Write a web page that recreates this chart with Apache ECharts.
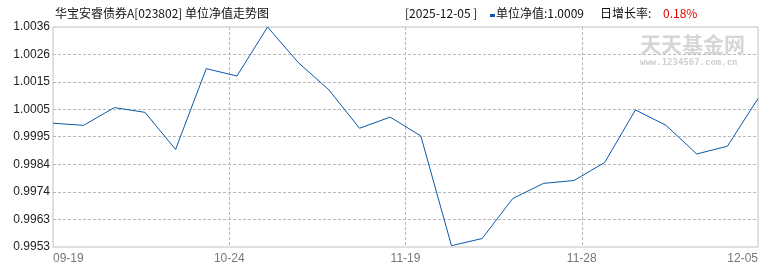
<!DOCTYPE html>
<html>
<head>
<meta charset="utf-8">
<script src="https://cdn.jsdelivr.net/npm/echarts@6/dist/echarts.min.js"></script>
<style>
html,body{margin:0;padding:0;background:#fff;}
#c{width:770px;height:270px;}
</style>
</head>
<body>
<div id="c"></div>
<script>
// ---- data ----
var fundTitle = '华宝安睿债券A[023802] 单位净值走势图';
var categories = ['2025-09-19','2025-09-26','2025-09-30','2025-10-10','2025-10-17','2025-10-21',
  '2025-10-24','2025-10-31','2025-11-07','2025-11-12','2025-11-14','2025-11-17',
  '2025-11-19','2025-11-20','2025-11-21','2025-11-24','2025-11-25','2025-11-26',
  '2025-11-28','2025-12-01','2025-12-02','2025-12-03','2025-12-04','2025-12-05'];
var navValues = [0.99997, 0.99989, 1.00056, 1.00038, 0.99898, 1.00203,
  1.00175, 1.00360, 1.00226, 1.00123, 0.99978, 1.00020,
  0.99949, 0.99535, 0.99562, 0.99713, 0.99770, 0.99781,
  0.99849, 1.00047, 0.99989, 0.99881, 0.99910, 1.00090];
var xTickLabels = ['09-19', '10-24', '11-19', '11-28', '12-05'];
var yTickValues = [0.9953, 0.99634, 0.99738, 0.99841, 0.99946, 1.00049, 1.00153, 1.00256, 1.0036];

var lastDate = categories[categories.length - 1];
var lastVal = navValues[navValues.length - 1];
var prevVal = navValues[navValues.length - 2];
var growth = ((lastVal / prevVal - 1) * 100).toFixed(2) + '%';

var chart = echarts.init(document.getElementById('c'), null, {renderer: 'canvas'});
var font = '"Noto Sans CJK SC", "Liberation Sans", sans-serif';
var option = {
  animation: false,
  backgroundColor: '#fff',
  grid: {left: 53, right: 12, top: 27, bottom: 23, show: true, borderColor: '#c0c0c0', borderWidth: 1, backgroundColor: 'transparent'},
  xAxis: [{
    type: 'category',
    data: categories,
    boundaryGap: false,
    axisLine: {show: false}, axisTick: {show: false}, axisLabel: {show: false}, splitLine: {show: false}
  }, {
    type: 'value',
    position: 'bottom',
    min: 0, max: xTickLabels.length - 1, interval: 1,
    axisLine: {show: false}, axisTick: {show: false},
    axisLabel: {
      show: true, color: '#777', fontSize: 12, fontFamily: '"Liberation Sans", sans-serif', margin: 6,
      alignMinLabel: 'left', alignMaxLabel: 'right',
      formatter: function (v) { return xTickLabels[Math.round(v)] || ''; }
    },
    splitLine: {show: true, showMinLine: false, showMaxLine: false, lineStyle: {color: '#b8b8b8', type: [3, 2], width: 1}}
  }],
  yAxis: {
    type: 'value',
    min: yTickValues[0], max: yTickValues[yTickValues.length - 1],
    axisLine: {show: false},
    axisTick: {show: false, customValues: yTickValues},
    axisLabel: {
      color: '#222', fontSize: 12, fontFamily: '"Liberation Sans", sans-serif', margin: 3,
      customValues: yTickValues,
      formatter: function (v) { return v.toFixed(4); }
    },
    splitLine: {show: true, showMinLine: false, showMaxLine: false, lineStyle: {color: '#b8b8b8', type: [3, 2], width: 1}}
  },
  series: [{
    type: 'line',
    xAxisIndex: 0,
    data: navValues,
    showSymbol: false,
    symbol: 'none',
    lineStyle: {color: '#0b5aa8', width: 1},
    itemStyle: {color: '#0b5aa8'},
    z: 5
  }],
  graphic: [
    {type: 'text', left: 55, top: 7, style: {text: fundTitle, fontSize: 12, fontFamily: font, fill: '#111'}},
    {type: 'text', left: 405, top: 7, style: {text: '[' + lastDate + ' ]', fontSize: 12, fontFamily: font, fill: '#111'}},
    {type: 'rect', shape: {x: 490, y: 14, width: 5, height: 3}, style: {fill: '#0b5aa8'}},
    {type: 'text', left: 496, top: 7, style: {text: '单位净值:' + lastVal.toFixed(4), fontSize: 12, fontFamily: font, fill: '#111'}},
    {type: 'text', left: 600, top: 7, style: {text: '日增长率:', fontSize: 12, fontFamily: font, fill: '#111'}},
    {type: 'text', left: 663, top: 7, style: {text: growth, fontSize: 12, fontFamily: font, fill: '#e00000'}},
    {type: 'text', left: 640, top: 34, z: 1, style: {text: '天天基金网', fontSize: 21, fontWeight: 'bold', fontFamily: font, fill: '#d6d6d6'}},
    {type: 'text', left: 640, top: 58, z: 1, style: {text: 'www.1234567.com.cn', fontSize: 9, fontWeight: 'bold', fontFamily: '"DejaVu Sans Mono", monospace', fill: '#cfcfcf'}}
  ]
};
chart.setOption(option);
</script>
</body>
</html>
